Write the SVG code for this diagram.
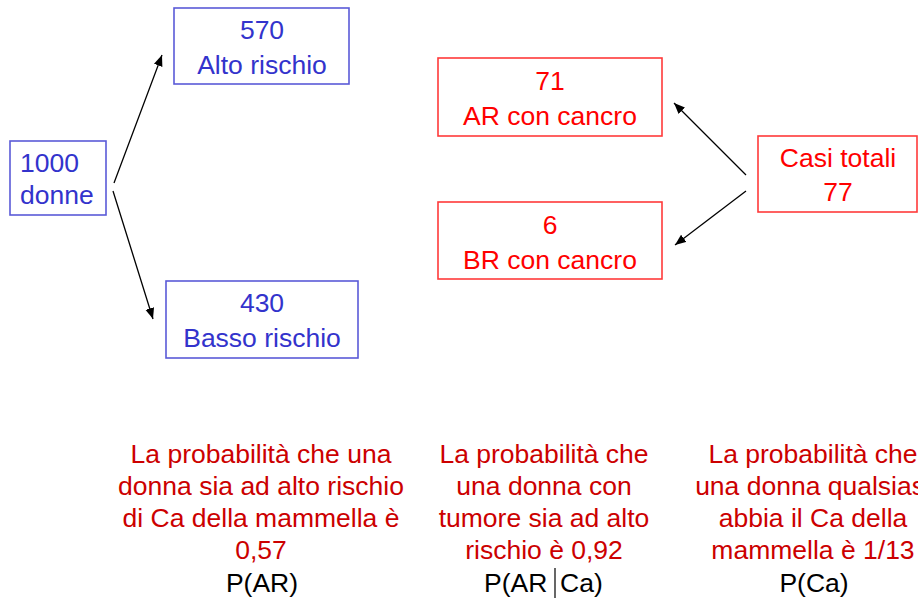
<svg xmlns="http://www.w3.org/2000/svg" width="918" height="603" viewBox="0 0 918 603">
<defs>
<style>
text{font-family:"Liberation Sans",Arial,sans-serif;font-size:26.5px}
.bb{fill:#fff;stroke:#5a5ad8;stroke-width:1.6}
.rb{fill:#fff;stroke:#ff3a3a;stroke-width:1.6}
.bt{fill:#3333cc}
.rt{fill:#ff0000}
.dt{fill:#cc0000}
.kt{fill:#000}
.c{text-anchor:middle}
.ar{stroke:#000;stroke-width:1.3;fill:none;marker-end:url(#ah)}
</style>
<marker id="ah" markerUnits="userSpaceOnUse" markerWidth="12" markerHeight="10" refX="11" refY="4.5" orient="auto">
<path d="M0,0 L11,4.5 L0,9 z" fill="#000"/>
</marker>
</defs>
<rect width="918" height="603" fill="#fff"/>
<g id="connectors">
<line class="ar" x1="114" y1="183" x2="162" y2="55"/>
<line class="ar" x1="113" y1="191" x2="153" y2="319"/>
<line class="ar" x1="746" y1="175" x2="674" y2="103"/>
<line class="ar" x1="746" y1="191" x2="675" y2="245"/>
</g>
<g id="n1000">
<rect class="bb" x="10" y="141" width="96" height="74"/>
<text class="bt" x="20" y="172">1000</text>
<text class="bt" x="20" y="204">donne</text>
</g>
<g id="n570">
<rect class="bb" x="174" y="8" width="175" height="76"/>
<text class="bt c" x="262" y="39">570</text>
<text class="bt c" x="262" y="74">Alto rischio</text>
</g>
<g id="n430">
<rect class="bb" x="166" y="281" width="192" height="77"/>
<text class="bt c" x="262" y="312">430</text>
<text class="bt c" x="262" y="347">Basso rischio</text>
</g>
<g id="n71">
<rect class="rb" x="438" y="58" width="224" height="78"/>
<text class="rt c" x="550" y="90">71</text>
<text class="rt c" x="550" y="125">AR con cancro</text>
</g>
<g id="n6">
<rect class="rb" x="438" y="202" width="224" height="77"/>
<text class="rt c" x="550" y="234">6</text>
<text class="rt c" x="550" y="269">BR con cancro</text>
</g>
<g id="n77">
<rect class="rb" x="758" y="136" width="159" height="76"/>
<text class="rt c" x="838" y="167">Casi totali</text>
<text class="rt c" x="838" y="201">77</text>
</g>
<g id="t1">
<text class="dt c" x="261" y="463">La probabilità che una</text>
<text class="dt c" x="261" y="495">donna sia ad alto rischio</text>
<text class="dt c" x="261" y="527">di Ca della mammella è</text>
<text class="dt c" x="261" y="559">0,57</text>
<text class="kt c" x="262" y="592">P(AR)</text>
</g>
<g id="t2">
<text class="dt c" x="544" y="463">La probabilità che</text>
<text class="dt c" x="544" y="495">una donna con</text>
<text class="dt c" x="544" y="527">tumore sia ad alto</text>
<text class="dt c" x="544" y="559">rischio è 0,92</text>
<text class="kt" x="484" y="592">P(AR</text>
<line x1="555" y1="568" x2="555" y2="598" stroke="#000" stroke-width="1.2"/>
<text class="kt" x="560" y="592">Ca)</text>
</g>
<g id="t3">
<text class="dt c" x="813" y="463">La probabilità che</text>
<text class="dt c" x="813" y="495">una donna qualsiasi</text>
<text class="dt c" x="813" y="527">abbia il Ca della</text>
<text class="dt c" x="813" y="559">mammella è 1/13</text>
<text class="kt c" x="814" y="592">P(Ca)</text>
</g>
</svg>
